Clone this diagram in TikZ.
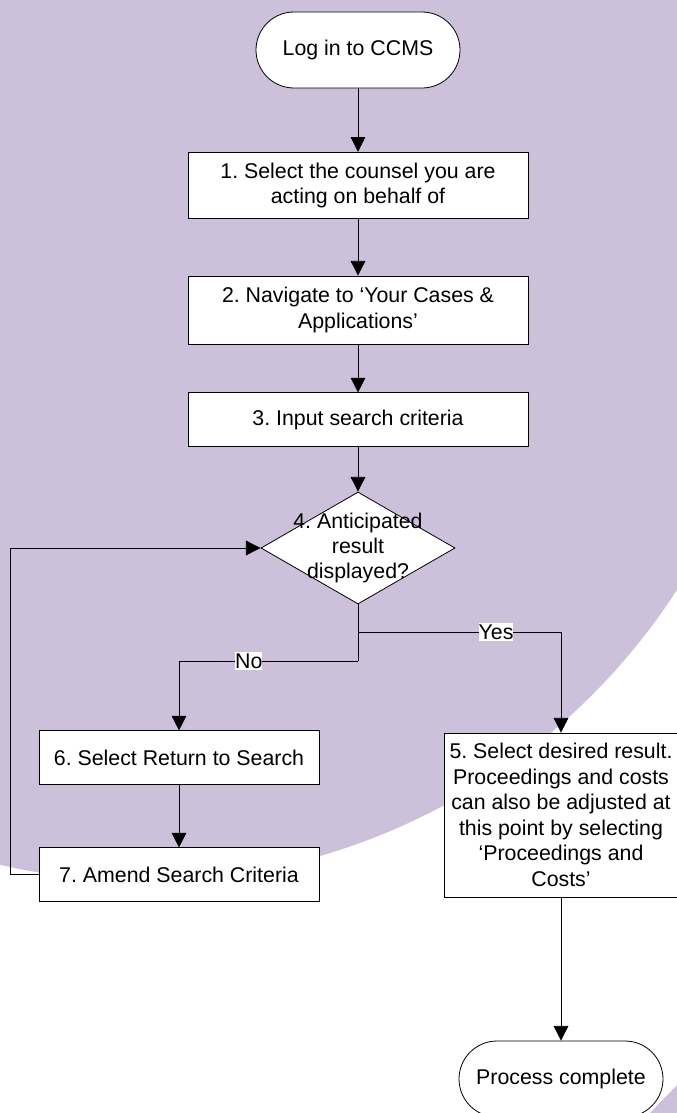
\documentclass[tikz,border=0pt]{standalone}
\usepackage{fontspec}
\setmainfont{Liberation Sans}
\usetikzlibrary{shapes.geometric,arrows.meta}
\definecolor{lilac}{RGB}{204,192,218}
\frenchspacing

\begin{document}
\begin{tikzpicture}[x=0.75pt,y=-0.75pt,line width=0.6pt,
    font=\fontsize{16}{19.1}\selectfont,
    >={Triangle[length=11pt,width=11pt]},
    stepbox/.style={draw,fill=white,align=center,inner sep=0pt},
    terminal/.style={stepbox,minimum width=153pt,minimum height=57pt,rounded corners=28.5pt},
    decision/.style={draw,fill=white,diamond,minimum width=145.5pt,minimum height=84pt,inner sep=0pt},
    branch/.style={fill=white,inner xsep=0pt,inner ysep=1.5pt}]
    \useasboundingbox (0,0) rectangle (677,1113);
    \fill[white] (0,0) rectangle (677,1113);
    \begin{scope}
        \clip (0,0) rectangle (677,1113);
        \fill[lilac] (143,246) circle[radius=635];
        \fill[lilac] (650,1113) -- (677,1085) -- (677,1113) -- cycle;
    \end{scope}

    \node[terminal] (login) at (358,50) {Log in to CCMS};
    \node[stepbox,minimum width=255pt,minimum height=50pt] (selcounsel) at (358,185.5) {1. Select the counsel you are\\acting on behalf of};
    \node[stepbox,minimum width=255pt,minimum height=51pt] (navigate) at (358,310) {2. Navigate to ‘Your Cases \&\\Applications’};
    \node[stepbox,minimum width=255pt,minimum height=40pt] (input) at (358,419.5) {3. Input search criteria};
    \node[decision] (anticip) at (358,548) {};
    \node[align=center,inner sep=0pt] (anticiptext) at (anticip) {4. Anticipated\\result\\displayed?};
    \node[stepbox,minimum width=175.5pt,minimum height=123pt] (selresult) at (561,815) {5. Select desired result.\\Proceedings and costs\\can also be adjusted at\\this point by selecting\\‘Proceedings and\\Costs’};
    \node[stepbox,minimum width=210pt,minimum height=40pt] (retsearch) at (179,757.5) {6. Select Return to Search};
    \node[stepbox,minimum width=210pt,minimum height=40pt] (amend) at (179,874.5) {7. Amend Search Criteria};
    \node[terminal] (complete) at (561,1079) {Process complete};

    \coordinate (yesjoin) at (358,632);
    \coordinate (nojoin) at (358,661);

    \draw[->] (login) to (selcounsel);
    \draw[->] (selcounsel) to (navigate);
    \draw[->] (navigate) to (input);
    \draw[->] (input) to (anticip);
    \draw (anticip) to (nojoin);
    \draw[->] (yesjoin) -| node[branch,pos=0.34] {Yes} (selresult);
    \draw[->] (nojoin) -| node[branch,pos=0.305] {No} (retsearch);
    \draw[->] (retsearch) to (amend);
    \draw[->] (amend.west) -- ++(-28,0) |- (anticip.west);
    \draw[->] (selresult) to (complete);
\end{tikzpicture}
\end{document}
